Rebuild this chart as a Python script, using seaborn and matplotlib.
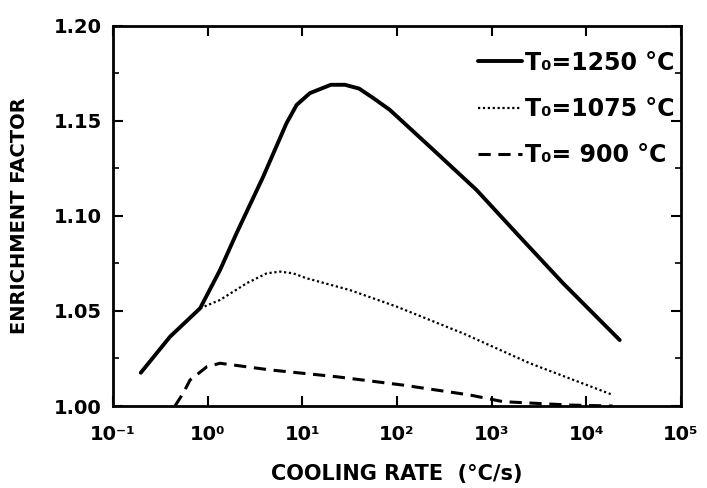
import matplotlib
matplotlib.use("Agg")
import matplotlib.pyplot as plt
import numpy as np
import pandas as pd
import seaborn as sns

# curve values (cooling rate in degC/s, enrichment factor)
rate_1250 = [0.196, 0.40, 0.83, 1.35, 2.02, 3.86, 6.8, 8.7, 12.0, 20.0, 28.2, 39.8, 56.2, 84, 222, 692, 1832, 5690, 22600]
ef_1250 = [1.0175, 1.0365, 1.0514, 1.0716, 1.091, 1.1207, 1.1488, 1.1584, 1.1646, 1.169, 1.169, 1.167, 1.162, 1.1558, 1.1365, 1.1137, 1.0909, 1.0646, 1.0347]

rate_1075 = [0.83, 1.35, 2.58, 4.2, 5.8, 8.0, 11.1, 31.8, 99, 501, 2530, 19200]
ef_1075 = [1.0514, 1.0558, 1.0646, 1.0698, 1.0707, 1.0698, 1.0672, 1.061, 1.0523, 1.0382, 1.0225, 1.0058]

rate_900 = [0.45, 0.55, 0.65, 0.80, 0.98, 1.35, 4.55, 23, 116, 589, 1318, 6700, 19000]
ef_900 = [1.0, 1.0067, 1.0137, 1.0172, 1.0207, 1.0225, 1.019, 1.0154, 1.011, 1.0058, 1.0023, 1.0005, 1.0]

labels = ["T₀=1250 °C", "T₀=1075 °C", "T₀= 900 °C"]
xticks = [0.1, 1, 10, 100, 1000, 10000, 100000]
xtick_labels = ["10⁻¹", "10⁰", "10¹", "10²", "10³", "10⁴", "10⁵"]
yticks = [1.00, 1.05, 1.10, 1.15, 1.20]

data = pd.concat([
    pd.DataFrame({"rate": rate_1250, "ef": ef_1250, "curve": labels[0]}),
    pd.DataFrame({"rate": rate_1075, "ef": ef_1075, "curve": labels[1]}),
    pd.DataFrame({"rate": rate_900, "ef": ef_900, "curve": labels[2]}),
])

sns.set_style("ticks")
plt.rcParams["font.family"] = ["DejaVu Sans"]
plt.rcParams["font.weight"] = "bold"
for k in ["text.color", "axes.labelcolor", "xtick.color", "ytick.color", "axes.edgecolor"]:
    plt.rcParams[k] = "black"

fig = plt.figure(figsize=(7.07, 4.88), dpi=100)
ax = fig.add_axes([0.160, 0.168, 0.803, 0.779])

styles = {labels[0]: ("-", 2.8), labels[1]: ((0, (1, 1.2)), 1.6), labels[2]: ((0, (4, 2.5)), 2.2)}
for lab in labels:
    sub = data[data["curve"] == lab]
    ls, lw = styles[lab]
    sns.lineplot(data=sub, x="rate", y="ef", ax=ax, color="black", lw=lw,
                 linestyle=ls, label=lab, sort=False, estimator=None)

ax.set_xscale("log")
ax.set_xlim(0.1, 100000)
ax.set_ylim(1.0, 1.2)
ax.set_xticks(xticks)
ax.set_xticklabels(xtick_labels)
ax.xaxis.set_minor_locator(matplotlib.ticker.NullLocator())
ax.set_yticks(yticks)
ax.set_yticklabels([f"{v:.2f}" for v in yticks])
ax.set_yticks([1.025, 1.075, 1.125, 1.175], minor=True)
ax.tick_params(direction="in", length=7, width=1.5, labelsize=14, pad=8,
               top=True, right=True)
ax.tick_params(axis="x", pad=14)
ax.tick_params(which="minor", direction="in", length=4, width=1.2, right=True)
for s in ax.spines.values():
    s.set_linewidth(2)
    s.set_visible(True)

ax.set_xlabel("COOLING RATE  (°C/s)", fontsize=15, fontweight="bold", labelpad=14)
ax.set_ylabel("ENRICHMENT FACTOR", fontsize=14, fontweight="bold", labelpad=18)

leg = ax.legend(loc="upper right", frameon=False, fontsize=17, handlelength=1.9,
                handletextpad=0.1, labelspacing=0.95, borderaxespad=0.0,
                bbox_to_anchor=(1.005, 0.96))
for t in leg.get_texts():
    t.set_fontweight("bold")

fig.savefig("out.png", dpi=100)
